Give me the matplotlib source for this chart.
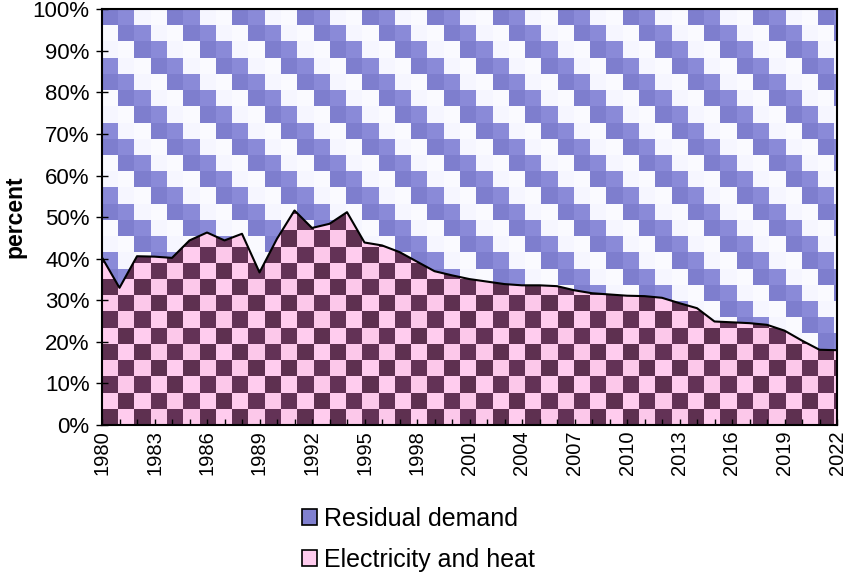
import numpy as np
import matplotlib
matplotlib.use("Agg")
import matplotlib.pyplot as plt
from matplotlib.patches import Patch
from matplotlib.ticker import MultipleLocator, FuncFormatter

plt.rcParams["font.family"] = ["Liberation Sans", "DejaVu Sans"]

# --- data -------------------------------------------------------------
years = list(range(1980, 2023))
electricity_heat = [40.3, 33.0, 40.6, 40.5, 40.2, 44.4, 46.3, 44.4, 46.0, 36.7,
                    44.8, 51.6, 47.4, 48.4, 51.2, 43.9, 43.2, 41.6, 39.3, 37.0,
                    36.0, 35.1, 34.5, 33.9, 33.6, 33.6, 33.4, 32.4, 31.7, 31.4,
                    31.1, 31.0, 30.6, 29.3, 28.1, 24.9, 24.7, 24.5, 24.1, 22.7,
                    20.3, 18.1, 18.0]
series_names = ["Residual demand", "Electricity and heat"]
tick_years = years[::3]

x = np.array(years)
eh = np.array(electricity_heat)
top = np.full_like(eh, 100.0)


def hexrgb(h):
    h = h.lstrip("#")
    return [int(h[i:i + 2], 16) / 255 for i in (0, 2, 4)]


def checker(nrows, ncols):
    dark = [hexrgb("#5E3050"), hexrgb("#633256")]
    light = [hexrgb("#FFCCEE"), hexrgb("#FCC8EA")]
    img = np.zeros((nrows, ncols, 3))
    for r in range(nrows):
        for c in range(ncols):
            alt = ((r // 2) + (c // 3)) % 2
            img[r, c] = dark[alt] if (r + c) % 2 == 0 else light[alt]
    return img


def stairs(nrows, ncols):
    blues = [hexrgb("#7E7ECE"), hexrgb("#8A8AD8")]
    whites = [hexrgb("#F6F6FF"), hexrgb("#FAFAFF")]
    img = np.zeros((nrows, ncols, 3))
    for r in range(nrows):
        for c in range(ncols):
            k = (c - r) % 4
            img[r, c] = blues[k] if k < 2 else whites[k - 2]
    return img


fig = plt.figure(figsize=(8.44, 5.72), dpi=100)
ax = fig.add_axes([102 / 844, 1 - 425 / 572, 735 / 844, 415.7 / 572])

cw = 0.93   # cell width in years
ch = 3.9    # cell height in percent
ncols = int(np.ceil(42 / cw)) + 1
nrows = int(np.ceil(100 / ch)) + 1

poly_top = ax.fill_between(x, eh, top, facecolor="none", edgecolor="none")
poly_bot = ax.fill_between(x, 0, eh, facecolor="none", edgecolor="none")

im_top = ax.imshow(stairs(nrows, ncols), origin="upper", interpolation="nearest",
                   extent=(1980, 1980 + ncols * cw, 100 - nrows * ch, 100),
                   aspect="auto", zorder=1)
im_top.set_clip_path(poly_top.get_paths()[0], transform=ax.transData)

im_bot = ax.imshow(checker(nrows, ncols), origin="lower", interpolation="nearest",
                   extent=(1980, 1980 + ncols * cw, 0, nrows * ch),
                   aspect="auto", zorder=1)
im_bot.set_clip_path(poly_bot.get_paths()[0], transform=ax.transData)

ax.plot(x, eh, color="black", lw=1.5, zorder=3)

ax.set_xlim(1980, 2022)
ax.set_ylim(0, 100)
ax.yaxis.set_major_locator(MultipleLocator(10))
ax.yaxis.set_major_formatter(FuncFormatter(lambda v, p: f"{v:.0f}%"))
ax.set_xticks(tick_years)
ax.set_xticklabels([str(y) for y in tick_years], rotation=90)
ax.set_xticks(years, minor=True)
ax.tick_params(axis="x", which="both", direction="in", length=4, width=1,
               labelsize=14.5, pad=4)
ax.tick_params(axis="y", direction="inout", length=8, width=1, labelsize=16, pad=5)
for s in ax.spines.values():
    s.set_linewidth(1.5)
    s.set_zorder(4)

ax.set_ylabel("percent", fontsize=16.5, fontweight="bold", labelpad=4)

handles = [Patch(facecolor="#8080D0", edgecolor="black", lw=1.2),
           Patch(facecolor="#FFCCEE", edgecolor="black", lw=1.2)]
fig.legend(handles, series_names, loc="upper left",
           bbox_to_anchor=(279 / 844, 1 - 484 / 572), frameon=False,
           fontsize=18, handlelength=0.6, handleheight=0.6, handletextpad=0.32,
           labelspacing=0.68)

fig.savefig("out.png", dpi=100)
